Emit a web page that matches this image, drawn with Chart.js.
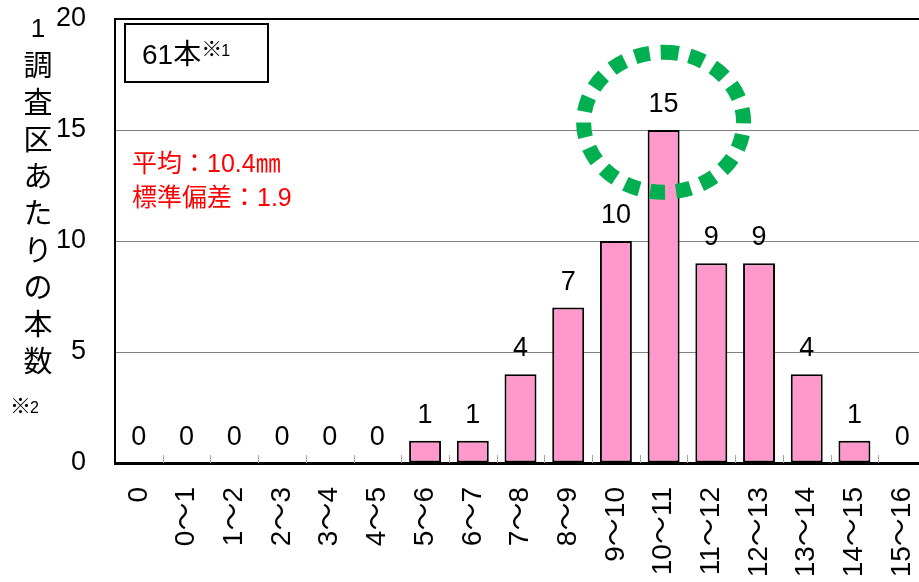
<!DOCTYPE html>
<html lang="ja">
<head>
<meta charset="utf-8">
<script src="https://cdn.jsdelivr.net/npm/chart.js@4"></script>
<style>
  html, body { margin: 0; padding: 0; background: #fff; overflow: hidden; }
</style>
</head>
<body>
<canvas id="histChart" width="930" height="582"></canvas>
<script>
const categories = ["0", "0〜1", "1〜2", "2〜3", "3〜4", "4〜5", "5〜6", "6〜7", "7〜8", "8〜9",
    "9〜10", "10〜11", "11〜12", "12〜13", "13〜14", "14〜15", "15〜16"];
const counts = [0, 0, 0, 0, 0, 0, 1, 1, 4, 7, 10, 15, 9, 9, 4, 1, 0];
const yTicks = [0, 5, 10, 15, 20];
const titleChars = ["1", "調", "査", "区", "あ", "た", "り", "の", "本", "数"];
const statLines = ["平均：10.4㎜", "標準偏差：1.9"];

const FONT = '"Liberation Sans", Arial, "Noto Sans CJK JP", sans-serif';
const CJK = '"Noto Sans CJK JP", sans-serif';

// draws "※" plus a small digit, left-aligned at x
function noteMark(ctx, digit, x, y) {
    ctx.font = "21px " + CJK;
    ctx.fillText("※", x - 2, y);
    const w = ctx.measureText("※").width;
    ctx.font = "16px " + FONT;
    ctx.fillText(digit, x + w - 3, y);
}

// labels, inner ticks, side title and notes
const extras = {
    id: "extras",
    afterDatasetsDraw(chart) {
        const { ctx, chartArea, scales } = chart;
        const xs = scales.x;
        ctx.save();

        // small inner ticks between categories
        ctx.strokeStyle = "#a6a6a6";
        ctx.lineWidth = 1;
        for (let i = 1; i < categories.length; i++) {
            const x = Math.round((xs.getPixelForTick(i - 1) + xs.getPixelForTick(i)) / 2) + 0.5;
            ctx.beginPath();
            ctx.moveTo(x, chartArea.bottom - 8);
            ctx.lineTo(x, chartArea.bottom);
            ctx.stroke();
        }

        // value labels above bars
        ctx.fillStyle = "#000";
        ctx.font = "27px " + FONT;
        ctx.textAlign = "center";
        ctx.textBaseline = "alphabetic";
        chart.getDatasetMeta(0).data.forEach((bar, i) => {
            ctx.fillText(String(counts[i]), bar.x, bar.y - 18);
        });

        // stacked vertical axis title
        ctx.textBaseline = "middle";
        titleChars.forEach((ch, i) => {
            ctx.font = (i === 0 ? "26px " : "29px ") + FONT;
            ctx.fillText(ch, 38, i === 0 ? 30 : 68 + (i - 1) * 37);
        });
        ctx.textAlign = "left";
        ctx.textBaseline = "alphabetic";
        noteMark(ctx, "2", 12, 413);

        // count box
        ctx.strokeStyle = "#000";
        ctx.lineWidth = 2;
        ctx.strokeRect(125, 24, 143, 58);
        ctx.font = "28px " + FONT;
        ctx.fillText("61本", 142, 64);
        const w = ctx.measureText("61本").width;
        noteMark(ctx, "1", 142 + w + 2, 56);

        // statistics
        ctx.fillStyle = "#ff0000";
        ctx.font = "25px " + FONT;
        statLines.forEach((s, i) => ctx.fillText(s, 132, 172 + i * 34));

        // dashed ring around the peak
        const cx = xs.getPixelForValue(11);
        const cy = scales.y.getPixelForValue(15.35);
        ctx.strokeStyle = "#00b050";
        ctx.lineWidth = 15;
        ctx.setLineDash([15, 11]);
        ctx.beginPath();
        ctx.ellipse(cx, cy, 80, 70, 0, -Math.PI / 2, Math.PI * 1.5);
        ctx.stroke();
        ctx.restore();
    }
};

new Chart(document.getElementById("histChart").getContext("2d"), {
    type: "bar",
    data: {
        labels: categories,
        datasets: [{
            data: counts,
            backgroundColor: "#ff99cc",
            borderColor: "#000",
            borderWidth: 2,
            borderSkipped: false,
            barPercentage: 0.67,
            categoryPercentage: 1
        }]
    },
    options: {
        responsive: false,
        animation: false,
        layout: { padding: { top: 19, right: 4, left: 0, bottom: 0 } },
        plugins: {
            legend: { display: false },
            tooltip: { enabled: false }
        },
        scales: {
            x: {
                afterFit: (s) => {
                    s.height = 119;
                    s.paddingLeft = 0;
                    s.paddingRight = 0;
                },
                grid: { display: false },
                border: { color: "#000", width: 3 },
                ticks: {
                    color: "#000",
                    font: { size: 28, family: FONT },
                    minRotation: 90,
                    maxRotation: 90,
                    padding: 16,
                    autoSkip: false
                }
            },
            y: {
                min: 0,
                max: 20,
                afterFit: (s) => {
                    s.width = 115;
                    s.paddingTop = 0;
                    s.paddingBottom = 0;
                },
                afterBuildTicks: (s) => { s.ticks = yTicks.map((v) => ({ value: v })); },
                grid: {
                    drawTicks: false,
                    color: (c) => (c.tick && c.tick.value === 20 ? "#000" : "#808080"),
                    lineWidth: (c) => (c.tick && c.tick.value === 20 ? 2 : 1)
                },
                border: { color: "#000", width: 2 },
                ticks: {
                    color: "#000",
                    font: { size: 27, family: FONT },
                    padding: 29
                }
            }
        }
    },
    plugins: [extras]
});
</script>
</body>
</html>
